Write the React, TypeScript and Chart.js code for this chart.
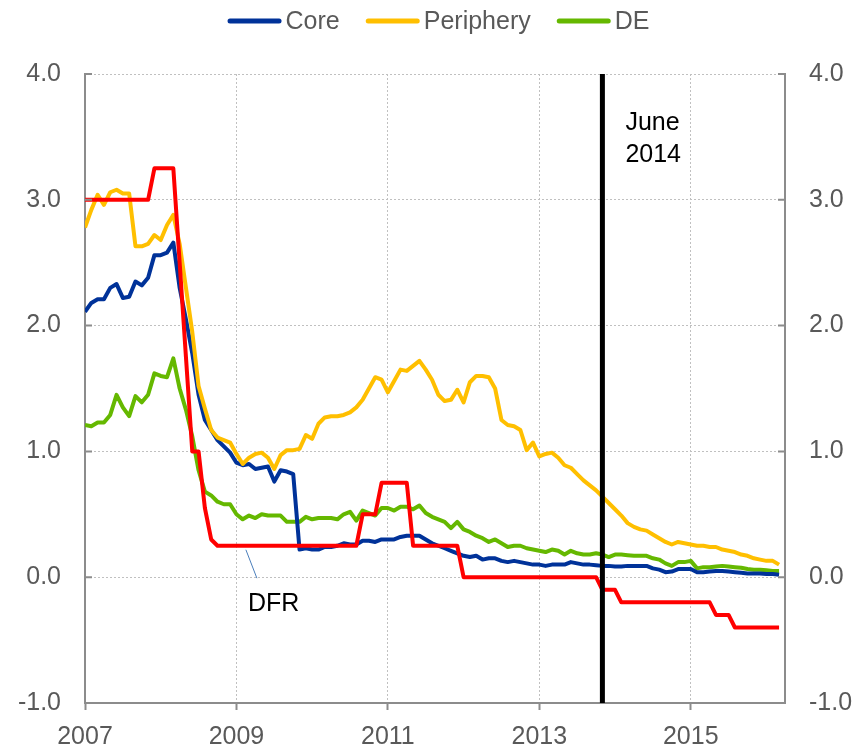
import { useEffect, useRef } from "react";
import { Chart, registerables } from "chart.js";

Chart.register(...registerables);

// Monthly observations, first point = January 2007 on the axis
const startYear = 2007;
const endYear = 2016.245;

const core = [
  2.11, 2.18, 2.21, 2.21, 2.30, 2.33, 2.22, 2.23, 2.35, 2.32, 2.38, 2.56,
  2.56, 2.58, 2.66, 2.30, 2.05, 1.78, 1.45, 1.25, 1.17, 1.09, 1.04, 0.99,
  0.91, 0.89, 0.90, 0.86, 0.87, 0.88, 0.76, 0.85, 0.84, 0.82, 0.22, 0.23,
  0.22, 0.22, 0.24, 0.24, 0.25, 0.27, 0.26, 0.26, 0.29, 0.29, 0.28, 0.30,
  0.30, 0.30, 0.32, 0.33, 0.33, 0.33, 0.30, 0.27, 0.25, 0.23, 0.21, 0.19,
  0.17, 0.16, 0.17, 0.14, 0.15, 0.15, 0.13, 0.12, 0.13, 0.12, 0.11, 0.10,
  0.10, 0.09, 0.10, 0.10, 0.10, 0.12, 0.11, 0.10, 0.10, 0.095, 0.09, 0.09,
  0.085, 0.085, 0.09, 0.09, 0.09, 0.09, 0.07, 0.06, 0.04, 0.045, 0.065, 0.065,
  0.065, 0.04, 0.04, 0.045, 0.05, 0.05, 0.045, 0.04, 0.035, 0.03, 0.03, 0.03,
  0.025, 0.025, 0.02,
];

const periphery = [
  2.78, 2.92, 3.04, 2.96, 3.06, 3.08, 3.05, 3.05, 2.63, 2.63, 2.65, 2.72,
  2.68, 2.80, 2.88, 2.65, 2.30, 1.95, 1.52, 1.34, 1.17, 1.11, 1.09, 1.07,
  0.98, 0.90, 0.95, 0.98, 0.99, 0.95, 0.86, 0.97, 1.01, 1.01, 1.02, 1.13,
  1.10, 1.22, 1.27, 1.28, 1.28, 1.29, 1.31, 1.35, 1.41, 1.50, 1.59, 1.57,
  1.47, 1.56, 1.65, 1.64, 1.68, 1.72, 1.65, 1.57, 1.45, 1.40, 1.41, 1.49,
  1.39, 1.55, 1.60, 1.60, 1.59, 1.50, 1.25, 1.21, 1.20, 1.17, 1.01, 1.07,
  0.96, 0.98, 0.99, 0.95, 0.89, 0.87, 0.82, 0.77, 0.73, 0.69, 0.64, 0.59,
  0.54, 0.49, 0.43, 0.40, 0.38, 0.37, 0.34, 0.31, 0.28, 0.26, 0.28, 0.27,
  0.26, 0.25, 0.25, 0.24, 0.24, 0.22, 0.21, 0.20, 0.18, 0.17, 0.15, 0.14,
  0.13, 0.13, 0.10,
];

const de = [
  1.21, 1.20, 1.23, 1.23, 1.29, 1.45, 1.35, 1.28, 1.44, 1.39, 1.45, 1.62,
  1.60, 1.59, 1.74, 1.50, 1.33, 1.12, 0.85, 0.68, 0.65, 0.60, 0.58, 0.58,
  0.50, 0.46, 0.49, 0.47, 0.50, 0.49, 0.49, 0.49, 0.44, 0.44, 0.44, 0.48,
  0.46, 0.47, 0.47, 0.47, 0.46, 0.50, 0.52, 0.45, 0.53, 0.51, 0.49, 0.55,
  0.55, 0.53, 0.56, 0.56, 0.54, 0.57, 0.51, 0.48, 0.46, 0.44, 0.39, 0.44,
  0.38, 0.36, 0.33, 0.31, 0.28, 0.30, 0.27, 0.24, 0.25, 0.25, 0.23, 0.22,
  0.21, 0.20, 0.22, 0.21, 0.18, 0.21, 0.19, 0.18, 0.18, 0.19, 0.18, 0.16,
  0.18, 0.18, 0.175, 0.17, 0.17, 0.17, 0.15, 0.14, 0.11, 0.09, 0.12, 0.12,
  0.13, 0.07, 0.08, 0.08, 0.085, 0.09, 0.085, 0.08, 0.075, 0.065, 0.06, 0.06,
  0.055, 0.05, 0.05,
];

const dfr = [
  3.0, 3.0, 3.0, 3.0, 3.0, 3.0, 3.0, 3.0, 3.0, 3.0, 3.0, 3.25,
  3.25, 3.25, 3.25, 2.5, 1.75, 1.0, 1.0, 0.55, 0.3, 0.25, 0.25, 0.25,
  0.25, 0.25, 0.25, 0.25, 0.25, 0.25, 0.25, 0.25, 0.25, 0.25, 0.25, 0.25,
  0.25, 0.25, 0.25, 0.25, 0.25, 0.25, 0.25, 0.25, 0.5, 0.5, 0.5, 0.75,
  0.75, 0.75, 0.75, 0.75, 0.25, 0.25, 0.25, 0.25, 0.25, 0.25, 0.25, 0.25,
  0, 0, 0, 0, 0, 0, 0, 0, 0, 0, 0, 0,
  0, 0, 0, 0, 0, 0, 0, 0, 0, 0, -0.1, -0.1,
  -0.1, -0.2, -0.2, -0.2, -0.2, -0.2, -0.2, -0.2, -0.2, -0.2, -0.2, -0.2,
  -0.2, -0.2, -0.2, -0.2, -0.3, -0.3, -0.3, -0.4, -0.4, -0.4, -0.4, -0.4,
  -0.4, -0.4, -0.4,
];

const seriesLabels = ["Core", "Periphery", "DE", "DFR"];
const legendSeries = ["Core", "Periphery", "DE"];
const xTickYears = [2007, 2009, 2011, 2013, 2015];
const yMin = -1;
const yMax = 4;
const markerIndex = 82; // vertical marker, in months from start
const markerLabel = ["June", "2014"];
const dfrLabelIndex = 25.5;
const dfrLabelText = "DFR";

const BLUE = "#003299";
const YELLOW = "#FFBF00";
const GREEN = "#65B800";
const RED = "#FF0000";
const AXIS = "#8C8C8C";
const GRID = "#C0C0C0";
const TEXT = "#595959";
const FONT = "'Liberation Sans', Arial, sans-serif";

const toPoints = (arr: number[]) =>
  arr.map((v, i) => ({ x: startYear + i / 12, y: v }));

const annotations = {
  id: "annotations",
  afterDraw(chart: any) {
    const { ctx } = chart;
    // legend (line swatches + labels), centred above the plot
    ctx.save();
    ctx.font = `25px ${FONT}`;
    ctx.textBaseline = "middle";
    ctx.textAlign = "left";
    const sw = 54;
    const gap = 4;
    const itemGap = 26;
    const items = chart.data.datasets.filter((d: any) => legendSeries.includes(d.label));
    const widths = items.map((d: any) => sw + gap + ctx.measureText(d.label).width);
    const total = widths.reduce((a: number, b: number) => a + b, 0) + itemGap * (items.length - 1);
    let x = 438.5 - total / 2;
    const ly = 21;
    items.forEach((d: any, k: number) => {
      ctx.strokeStyle = d.borderColor;
      ctx.lineWidth = 5;
      ctx.lineCap = "round";
      ctx.beginPath();
      ctx.moveTo(x + 2.5, ly);
      ctx.lineTo(x + sw - 2.5, ly);
      ctx.stroke();
      ctx.fillStyle = TEXT;
      ctx.fillText(d.label, x + sw + gap, ly + 1);
      x += widths[k] + itemGap;
    });
    ctx.restore();
  },
  afterDatasetsDraw(chart: any) {
    const { ctx, chartArea, scales } = chart;
    const xs = scales.x;
    const ys = scales.y;
    ctx.save();
    // inward tick marks on both value axes
    ctx.strokeStyle = AXIS;
    ctx.lineWidth = 2;
    for (let v = yMin; v <= yMax; v++) {
      const y = ys.getPixelForValue(v);
      ctx.beginPath();
      ctx.moveTo(chartArea.left, y);
      ctx.lineTo(chartArea.left + 7, y);
      ctx.moveTo(chartArea.right - 7, y);
      ctx.lineTo(chartArea.right, y);
      ctx.stroke();
    }
    // vertical marker
    const mx = xs.getPixelForValue(startYear + markerIndex / 12);
    ctx.strokeStyle = "#000000";
    ctx.lineWidth = 5;
    ctx.beginPath();
    ctx.moveTo(mx, chartArea.top);
    ctx.lineTo(mx, chartArea.bottom);
    ctx.stroke();
    ctx.fillStyle = "#000000";
    ctx.font = `25px ${FONT}`;
    ctx.textAlign = "left";
    ctx.textBaseline = "alphabetic";
    ctx.fillText(markerLabel[0], mx + 23, chartArea.top + 56);
    ctx.fillText(markerLabel[1], mx + 23, chartArea.top + 88);
    // DFR label with leader line
    const lx = xs.getPixelForValue(startYear + dfrLabelIndex / 12);
    const ly0 = ys.getPixelForValue(0.25) + 4;
    const ly1 = ys.getPixelForValue(0) + 1;
    ctx.strokeStyle = "#4A7EBB";
    ctx.lineWidth = 1;
    ctx.beginPath();
    ctx.moveTo(lx, ly0);
    ctx.lineTo(lx + 11, ly1);
    ctx.stroke();
    ctx.fillText(dfrLabelText, lx + 2, ly1 + 33);
    ctx.restore();
  },
};

export default function App() {
  const ref = useRef<HTMLCanvasElement | null>(null);

  useEffect(() => {
    if (!ref.current) return;
    const colors = [BLUE, YELLOW, GREEN, RED];
    const values = [core, periphery, de, dfr];
    const orders = [2, 1, 3, 0];
    const chart = new Chart(ref.current, {
      type: "line",
      data: {
        datasets: seriesLabels.map((label, k) => ({
          label,
          data: toPoints(values[k]),
          borderColor: colors[k],
          backgroundColor: colors[k],
          borderWidth: 4,
          pointRadius: 0,
          pointHoverRadius: 0,
          tension: 0,
          fill: false,
          order: orders[k],
          borderJoinStyle: "round" as const,
        })),
      },
      options: {
        animation: false,
        responsive: false,
        layout: { padding: { left: 0, right: 0, top: 74, bottom: 0 } },
        plugins: {
          tooltip: { enabled: false },
          legend: { display: false },
        },
        scales: {
          x: {
            type: "linear",
            min: startYear,
            max: endYear,
            afterBuildTicks: (s: any) => {
              s.ticks = xTickYears.map((v) => ({ value: v }));
            },
            afterFit: (s: any) => {
              s.height = 45;
            },
            ticks: {
              color: TEXT,
              font: { family: FONT, size: 25 },
              padding: 12,
              maxRotation: 0,
              autoSkip: false,
              callback: (v: any) => String(v),
            },
            grid: {
              color: GRID,
              lineWidth: 1,
              drawTicks: true,
              tickLength: 7,
              tickColor: AXIS,
              tickWidth: 2,
              tickBorderDash: [],
            },
            border: { display: true, color: AXIS, width: 2, dash: [2, 2] },
          },
          y: {
            type: "linear",
            position: "left",
            min: yMin,
            max: yMax,
            afterFit: (s: any) => {
              s.width = 85;
            },
            ticks: {
              stepSize: 1,
              color: TEXT,
              font: { family: FONT, size: 25 },
              padding: 24,
              callback: (v: any) => Number(v).toFixed(1),
            },
            grid: { color: GRID, lineWidth: 1, drawTicks: false },
            border: { display: true, color: AXIS, width: 2, dash: [2, 2] },
          },
          y2: {
            type: "linear",
            position: "right",
            min: yMin,
            max: yMax,
            afterFit: (s: any) => {
              s.width = 71;
            },
            ticks: {
              stepSize: 1,
              color: TEXT,
              font: { family: FONT, size: 25 },
              padding: 24,
              callback: (v: any) => Number(v).toFixed(1),
            },
            grid: { drawOnChartArea: false, drawTicks: false },
            border: { display: true, color: AXIS, width: 2 },
          },
        },
      },
      plugins: [annotations],
    } as any);
    return () => chart.destroy();
  }, []);

  return (
    <div style={{ position: "fixed", left: 0, top: 0, width: 856, height: 748, background: "#ffffff" }}>
      <canvas ref={ref} width={856} height={748} style={{ display: "block" }} />
    </div>
  );
}
